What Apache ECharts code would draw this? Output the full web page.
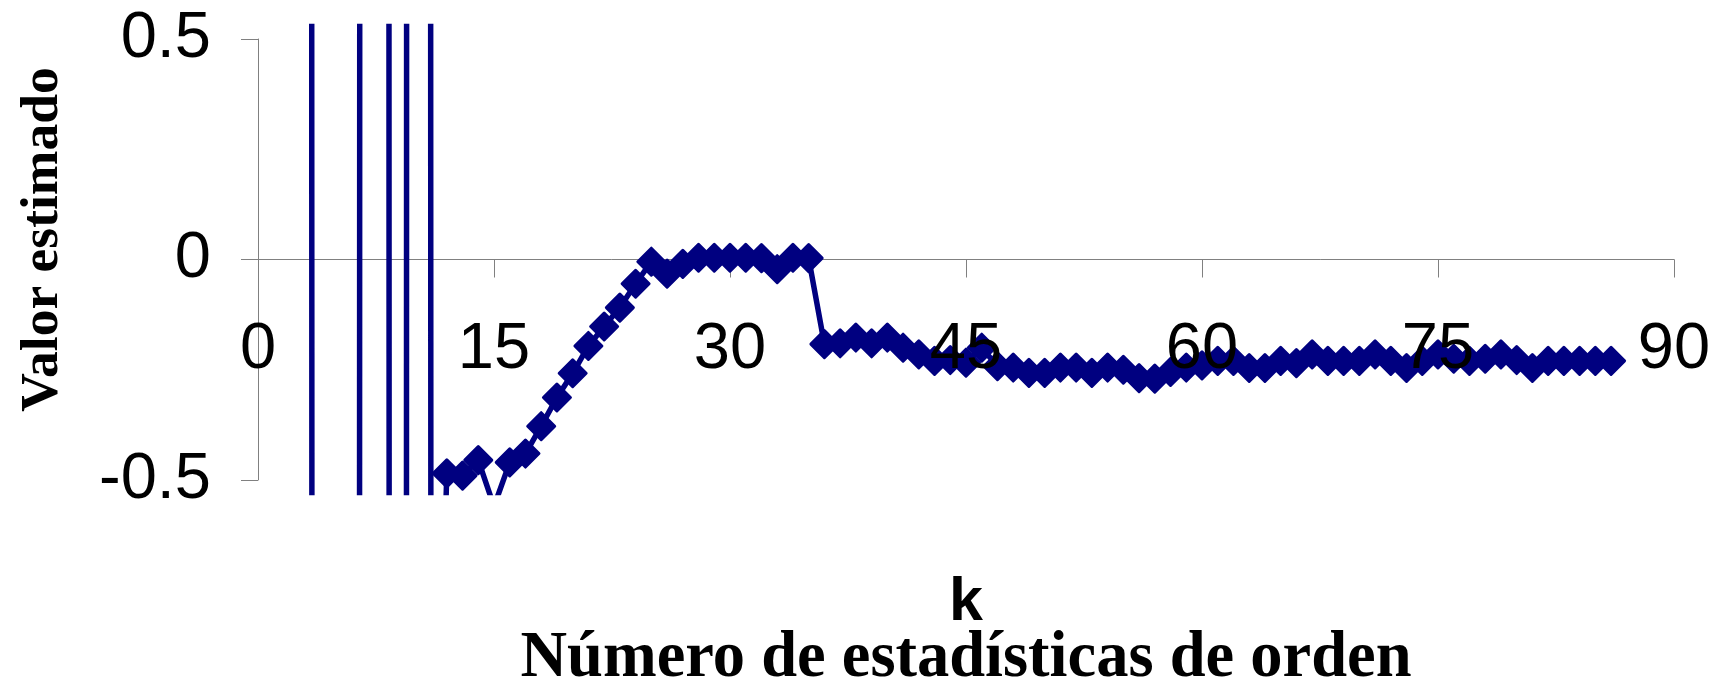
<!DOCTYPE html>
<html>
<head>
<meta charset="utf-8">
<script src="https://cdn.jsdelivr.net/npm/echarts@6/dist/echarts.min.js"></script>
<style>
html,body{margin:0;padding:0;background:#fff;}
#chart{width:1720px;height:682px;}
</style>
</head>
<body>
<div id="chart"></div>
<script>
// k (number of order statistics)
const kValues = [1,2,3,4,5,6,7,8,9,10,11,12,13,14,15,16,17,18,19,20,
  21,22,23,24,25,26,27,28,29,30,31,32,33,34,35,36,37,38,39,40,
  41,42,43,44,45,46,47,48,49,50,51,52,53,54,55,56,57,58,59,60,
  61,62,63,64,65,66,67,68,69,70,71,72,73,74,75,76,77,78,79,80,
  81,82,83,84,85,86];
// estimated value (first points lie far outside the visible range)
const estimates = [40,25,42,-58,-35,-46,54,33,-67,85,
  -1.7,-0.485,-0.49,-0.455,-0.56,-0.46,-0.44,-0.378,-0.313,-0.258,
  -0.196,-0.152,-0.109,-0.055,-0.005,-0.032,-0.01,0.004,0.004,0.004,
  0.004,0.003,-0.022,0.004,0.003,-0.192,-0.19,-0.177,-0.19,-0.177,
  -0.2,-0.215,-0.23,-0.228,-0.234,-0.2,-0.242,-0.245,-0.257,-0.257,
  -0.245,-0.245,-0.257,-0.245,-0.25,-0.269,-0.27,-0.255,-0.245,-0.24,
  -0.23,-0.23,-0.246,-0.246,-0.23,-0.235,-0.215,-0.23,-0.23,-0.23,
  -0.215,-0.23,-0.246,-0.23,-0.215,-0.225,-0.23,-0.225,-0.215,-0.228,
  -0.246,-0.23,-0.23,-0.23,-0.23,-0.23];
const xTicks = [0,15,30,45,60,75,90];
const yTicks = [-0.5,0,0.5];
const xTitle = 'k';
const xSubTitle = 'Número de estadísticas de orden';
const yTitle = 'Valor estimado';

const chart = echarts.init(document.getElementById('chart'), null, {renderer:'canvas'});
const axisGray = '#808080';
const navy = '#000080';
const yPad = 0.5 * 466 / 441; // plot area slightly larger than axis range

chart.setOption({
  backgroundColor: '#ffffff',
  animation: false,
  grid: [
    {left: 258, right: 46, top: 39, bottom: 202, containLabel: false, outerBoundsMode: 'none'},
    {left: 258, right: 46, top: 26.5, bottom: 189.5, containLabel: false, outerBoundsMode: 'none'}
  ],
  xAxis: [
    {
      gridIndex: 0, type: 'value',
      min: xTicks[0], max: xTicks[xTicks.length-1], interval: xTicks[1]-xTicks[0],
      axisLine: {show: true, onZero: true, lineStyle: {color: axisGray, width: 1}},
      axisTick: {show: true, length: 18, lineStyle: {color: axisGray, width: 1}},
      axisLabel: {show: false},
      splitLine: {show: false},
      name: '{k|' + xTitle + '}\n{t|' + xSubTitle + '}',
      nameLocation: 'middle',
      nameGap: 95,
      nameTextStyle: {
        rich: {
          k: {fontFamily: 'Liberation Sans', fontWeight: 'bold', fontSize: 61, lineHeight: 56, color: '#000'},
          t: {fontFamily: 'Liberation Serif', fontWeight: 'bold', fontSize: 64.5, lineHeight: 56, color: '#000'}
        }
      }
    },
    {
      gridIndex: 1, type: 'value', z: 5,
      min: xTicks[0], max: xTicks[xTicks.length-1], interval: xTicks[1]-xTicks[0],
      offset: -233,
      axisLine: {show: false, onZero: false},
      axisTick: {show: false},
      splitLine: {show: false},
      axisLabel: {show: true, margin: 58, fontSize: 65, fontFamily: 'Liberation Sans', color: '#000'}
    }
  ],
  yAxis: [
    {
      gridIndex: 0, type: 'value',
      min: yTicks[0], max: yTicks[yTicks.length-1], interval: yTicks[1]-yTicks[0],
      axisLine: {show: true, lineStyle: {color: axisGray, width: 1}},
      axisTick: {show: true, length: 17, lineStyle: {color: axisGray, width: 1}},
      splitLine: {show: false},
      axisLabel: {margin: 47, fontSize: 65, fontFamily: 'Liberation Sans', color: '#000'},
      name: yTitle,
      nameLocation: 'middle',
      nameGap: 188,
      nameTextStyle: {fontFamily: 'Liberation Serif', fontWeight: 'bold', fontSize: 53.5, color: '#000', padding: [0, 0, 0, 40]}
    },
    {
      gridIndex: 1, type: 'value', show: false,
      min: -yPad, max: yPad
    }
  ],
  series: [{
    type: 'line',
    xAxisIndex: 1, yAxisIndex: 1,
    data: kValues.map((k, i) => [k, estimates[i]]),
    symbol: 'diamond',
    symbolSize: 27,
    showAllSymbol: true,
    clip: true,
    lineStyle: {color: navy, width: 5.5},
    itemStyle: {color: navy, borderColor: navy, borderWidth: 3, borderJoin: 'round'},
    z: 2
  }]
});
</script>
</body>
</html>
